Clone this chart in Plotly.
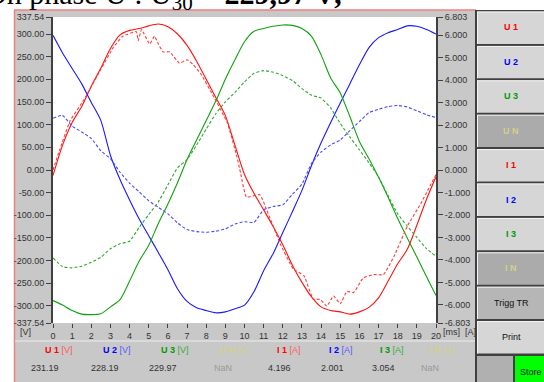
import plotly.graph_objects as go

# ---------------- data ----------------
t_ms = [0, 0.5, 1, 1.5, 2, 2.5, 3, 3.5, 4, 4.5, 5, 5.5, 6, 6.5, 7, 7.5, 8, 8.5, 9, 9.5, 10,
        10.5, 11, 11.5, 12, 12.5, 13, 13.5, 14, 14.5, 15, 15.5, 16, 16.5, 17, 17.5, 18, 18.5, 19, 19.5, 20]

u1_v = [-12, 55, 105, 140, 185, 225, 268, 298, 308, 312, 318, 322, 316, 300, 275, 240, 200, 160, 120, 55, -10,
        -52, -88, -125, -165, -210, -248, -280, -302, -310, -313, -318, -313, -303, -282, -245, -207, -175, -122, -65, -15]
u2_v = [297, 258, 224, 190, 149, 109, 32, -21, -66, -108, -145, -182, -220, -262, -290, -304, -310, -315, -313, -306, -298,
        -268, -222, -184, -138, -92, -45, 10, 60, 105, 148, 190, 232, 270, 292, 303, 310, 318, 317, 310, 300]
u3_v = [-288, -298, -310, -318, -319, -317, -302, -286, -245, -201, -166, -118, -75, -28, 23, 66, 109, 152, 200, 243, 283,
        306, 312, 317, 320, 319, 312, 295, 254, 203, 170, 118, 63, 25, -16, -60, -107, -150, -192, -235, -277]

i2_a = [2.3, 2.43, 1.95, 1.69, 1.4, 0.85, 0.5, -0.1, -0.59, -0.97, -1.37, -1.66, -1.95, -2.35, -2.65, -2.74, -2.77, -2.72, -2.62, -2.4, -2.3,
        -2.33, -1.77, -1.62, -1.55, -1.08, -0.63, 0.3, 0.8, 1.12, 1.33, 1.75, 2.15, 2.55, 2.7, 2.82, 2.87, 2.8, 2.63, 2.46, 2.33]
i3_a = [-3.91, -4.3, -4.35, -4.28, -4.1, -3.88, -3.5, -3.28, -3.17, -2.55, -1.98, -1.42, -0.66, 0.1, 0.46, 1.11, 1.82, 2.5, 3.03, 3.45, 3.92,
        4.3, 4.42, 4.35, 4.2, 3.98, 3.62, 3.32, 3.2, 2.76, 2.07, 1.47, 0.9, 0.32, -0.3, -1.15, -1.95, -2.5, -3.0, -3.5, -3.84]

t_i1 = [0, 0.35, 0.9, 1.6, 2.45, 3.15, 3.65, 4.35, 4.45, 4.62, 5.05, 5.3, 5.5, 5.75, 6.1, 6.6, 7.0, 7.3, 7.7, 8.4, 9.1,
        9.6, 9.8, 10.1, 10.8, 11.15, 11.85, 12.55, 13.1, 13.6, 13.95, 14.3, 14.65, 15.0, 15.35, 15.7, 16.2, 16.75, 17.25,
        17.8, 18.5, 19.2, 20.0]
i1_a = [0.0, 0.9, 2.2, 3.1, 4.4, 5.45, 5.95, 6.15, 5.75, 6.25, 5.6, 5.95, 5.6, 5.25, 5.25, 4.75, 4.9, 4.7, 4.3, 3.25, 2.1,
        0.6, -0.15, -1.2, -1.1, -1.75, -3.25, -4.4, -4.7, -5.75, -5.75, -6.05, -5.6, -5.95, -5.4, -5.45, -4.8, -4.65, -4.65,
        -3.85, -2.5, -1.5, -0.2]

x_ticks = list(range(0, 21))
v_ticks = [-337.54, -300, -250, -200, -150, -100, -50, 0, 50, 100, 150, 200, 250, 300, 337.54]
v_ticktext = ["-337.54", "-300.00", "-250.00", "-200.00", "-150.00", "-100.00", "-50.00", "0.00",
              "50.00", "100.00", "150.00", "200.00", "250.00", "300.00", "337.54"]
a_ticks = [-6.803, -6, -5, -4, -3, -2, -1, 0, 1, 2, 3, 4, 5, 6, 6.803]
a_ticktext = ["-6.803", "-6.000", "-5.000", "-4.000", "-3.000", "-2.000", "-1.000", "0.000",
              "1.000", "2.000", "3.000", "4.000", "5.000", "6.000", "6.803"]

channels = ["U 1", "U 2", "U 3", "U N", "I 1", "I 2", "I 3", "I N"]
units = ["[V]", "[V]", "[V]", "[V]", "[A]", "[A]", "[A]", "[A]"]
readings = ["231.19", "228.19", "229.97", "NaN", "4.196", "2.001", "3.054", "NaN"]
buttons = ["U 1", "U 2", "U 3", "U N", "I 1", "I 2", "I 3", "I N", "Trigg TR", "Print"]
title_text = "On phase U : U<sub>30</sub> = <b>229,97 V;</b>"

# ---------------- layout helpers ----------------
W, H = 544, 382
L, R, T, B = 53, 108, 17, 59
PW = W - L - R
PH = H - T - B


def px(x):
    return (x - L) / PW


def py(y):
    return (H - B - y) / PH


shapes = []
annotations = []


def rect(x0, y0, x1, y1, fill, lcolor=None, lw=0):
    shapes.append(dict(type="rect", xref="paper", yref="paper", x0=px(x0), x1=px(x1), y0=py(y1), y1=py(y0),
                       fillcolor=fill, line=dict(width=lw, color=lcolor or fill), layer="below"))


def line(x0, y0, x1, y1, color, w=1):
    shapes.append(dict(type="line", xref="paper", yref="paper", x0=px(x0), x1=px(x1), y0=py(y0), y1=py(y1),
                       line=dict(color=color, width=w), layer="below"))


def text(x, y, s, size=9, color="#222222", xanchor="center", yanchor="middle", family="Liberation Sans, Arial"):
    annotations.append(dict(xref="paper", yref="paper", x=px(x), y=py(y), text=s, showarrow=False,
                            xanchor=xanchor, yanchor=yanchor, font=dict(size=size, color=color, family=family)))


PANEL = "#c8c8c8"
# instrument frame
rect(15, 10, 476, 382, PANEL)
rect(L, T, L + PW, T + PH, "white")
line(14.5, 10, 14.5, 382, "#f08080", 1.5)
line(14, 10, 476, 10, "#f08080", 1.5)
line(15, 341, 476, 341, "#ececec", 1)

# button column
rect(475, 10, 544, 382, "#404040")
ch_colors = ["#ff0000", "#0000ff", "#009a00", "#d2d28a", "#ff0000", "#0000ff", "#009a00", "#d2d28a", "#111111", "#111111"]
btn_fill = ["#d6d6d6", "#d6d6d6", "#d6d6d6", "#ababab", "#d6d6d6", "#d6d6d6", "#d6d6d6", "#ababab", "#b6b6b6", "#d6d6d6"]
step = 34.4
for i, lab in enumerate(buttons):
    top = 10 + step * i
    rect(477, top + 1.5, 545, top + step - 0.5, btn_fill[i])
    line(477, top + 2, 545, top + 2, "#f4f4f4", 1)
    line(477.5, top + 2, 477.5, top + step - 0.5, "#f4f4f4", 1)
    bold = i < 8
    s = "<b>%s</b>" % lab if bold else lab
    text(511, top + 17.5, s, size=9, color=ch_colors[i])
rect(477, 356, 513, 382, "#b0b0b0")
rect(515, 356, 545, 382, "#00ff00")
text(531, 372, "Store", size=9, color="#111111")

# bottom readout table
label_x = [42.5, 100.5, 159, 217, 275, 327, 378, 427]
value_x = [45, 104.5, 163, 223, 279, 332.5, 383, 430]
unit_colors = ["#ff5a5a", "#5a5aff", "#3aa83a", "#d2d28a", "#ff5a5a", "#5a5aff", "#3aa83a", "#d2d28a"]
for k in range(8):
    s = '<b>%s</b> <span style="color:%s">%s</span>' % (channels[k], unit_colors[k], units[k])
    text(label_x[k], 350, s, size=9, color=ch_colors[k], xanchor="left")
    vc = "#999999" if readings[k] == "NaN" else "#333333"
    text(value_x[k], 368, readings[k], size=9, color=vc)

text(26, 332, "[V]", size=9, color="#333333")
text(441, 332, "[ms]  [A]", size=9, color="#333333", xanchor="left")

# cropped document heading above the instrument screen
text(-17, -4, title_text, size=30, color="black", xanchor="left", family="Liberation Serif, Times New Roman, serif")

# ---------------- traces ----------------
fig = go.Figure()
solid = dict(width=1.1, shape="spline", smoothing=0.7)
dashed = dict(width=1.1, shape="spline", smoothing=0.4, dash="3px,2px")
fig.add_trace(go.Scatter(x=t_ms, y=u1_v, mode="lines", line=dict(color="#ff1010", **solid), name="U1"))
fig.add_trace(go.Scatter(x=t_ms, y=u2_v, mode="lines", line=dict(color="#1818ff", **solid), name="U2"))
fig.add_trace(go.Scatter(x=t_ms, y=u3_v, mode="lines", line=dict(color="#10a010", **solid), name="U3"))
fig.add_trace(go.Scatter(x=t_i1, y=i1_a, mode="lines", yaxis="y2", line=dict(color="#ff3a3a", **dashed), name="I1"))
fig.add_trace(go.Scatter(x=t_ms, y=i2_a, mode="lines", yaxis="y2", line=dict(color="#4848ff", **dashed), name="I2"))
fig.add_trace(go.Scatter(x=t_ms, y=i3_a, mode="lines", yaxis="y2", line=dict(color="#30a830", **dashed), name="I3"))

axis_font = dict(size=9, color="#333333", family="Liberation Sans, Arial")
fig.update_layout(
    width=W, height=H, autosize=False,
    margin=dict(l=L, r=R, t=T, b=B, pad=0),
    paper_bgcolor="white", plot_bgcolor="white",
    showlegend=False,
    font=dict(family="Liberation Sans, Arial", size=9, color="#333333"),
    xaxis=dict(range=[0, 20], tickvals=x_ticks, ticks="outside", ticklen=4, tickcolor="#404040",
               showgrid=False, zeroline=False, showline=False, tickfont=axis_font, fixedrange=True),
    yaxis=dict(range=[-337.54, 337.54], tickvals=v_ticks, ticktext=v_ticktext, ticks="outside", ticklen=5,
               tickcolor="#404040", showline=True, linecolor="#404040", linewidth=2,
               showgrid=False, zeroline=False, tickfont=axis_font, fixedrange=True),
    yaxis2=dict(range=[-6.803, 6.803], tickvals=a_ticks, ticktext=a_ticktext, overlaying="y", side="right",
                anchor="x", ticks="outside", ticklen=5, tickcolor="#404040", showline=True, linecolor="#404040",
                linewidth=2, showgrid=False, zeroline=False, tickfont=axis_font, fixedrange=True),
    shapes=shapes,
    annotations=annotations,
)

fig.write_html("out.html", config={"displayModeBar": False},
               post_script="document.body.style.margin='0';")
